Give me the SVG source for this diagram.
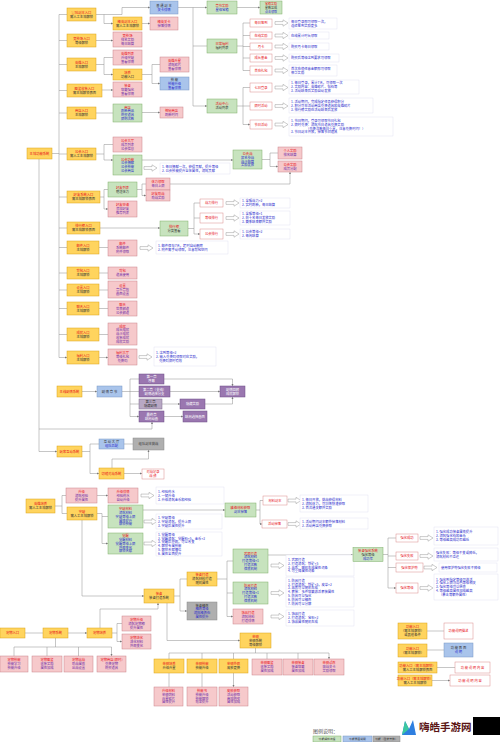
<svg xmlns="http://www.w3.org/2000/svg" xmlns:xlink="http://www.w3.org/1999/xlink" width="500" height="742" viewBox="0 0 500 742">
<style>
.o{fill:#FFD45E;stroke:#D9A21B;stroke-width:.5}
.p{fill:#F6C9CB;stroke:#C9858A;stroke-width:.5}
.g{fill:#C7E3BE;stroke:#7FAF6A;stroke-width:.5}
.b{fill:#A9C4EB;stroke:#7896C4;stroke-width:.5}
.u{fill:#9A77B0;stroke:#6E4E86;stroke-width:.5}
.u2{fill:#B8A8C4;stroke:#7D6A8C;stroke-width:.5}
.x{fill:#AFAFAF;stroke:#8A8A8A;stroke-width:.5}
.w{fill:#fff;stroke:#D98C8C;stroke-width:.5}
.t{fill:#fff;stroke:#E2E2F2;stroke-width:.5}
.c{fill:none;stroke:#8C8C8C;stroke-width:.5}
.a{fill:none;stroke:#8C8C8C;stroke-width:.5;marker-end:url(#ah)}
text{font-family:"Noto Sans CJK SC","Noto Sans",sans-serif;font-size:3.3px}
.m{text-anchor:middle}
.r{fill:#E8141B}.d{fill:#333}.bl{fill:#2A2ACC}.pp{fill:#6F2BA6}.wh{fill:#fff}
</style>
<defs>
<marker id="ah" markerUnits="userSpaceOnUse" markerWidth="2.4" markerHeight="2.4" viewBox="0 0 6 6" refX="6" refY="3" orient="auto"><path d="M0,0L6,3L0,6z" fill="#777"/></marker>
<path id="ha" d="M0,-1.4H8V-3.2L13,0L8,3.2V1.4H0Z" fill="#fff" stroke="#999" stroke-width=".5"/>
</defs>
<rect width="500" height="742" fill="#fff"/>

<g id="connectors">
<path class="c" d="M59,14.5V357.5M52,153.5H59"/>
<path class="a" d="M59,14.5H67M59,40.5H67M59,64.5H67M59,90.5H67M59,113H67M59,154H67M59,197H67M59,228H67M59,247.5H67M59,273H67M59,290H67M59,308.5H67M59,334.5H67M59,357.5H67"/>
<path class="a" d="M96,14.5H122V7.5H150"/>
<path class="a" d="M104,14.5V23.5H113"/>
<path class="a" d="M142,23.5H150"/>
<path class="a" d="M178,7.5H207"/>
<path class="c" d="M193,7.5V106"/>
<path class="a" d="M193,46H207M193,106H207"/>
<path class="a" d="M237,7.5H260"/>
<path class="c" d="M237,46H243M243,23V70.5M237,106H243M243,87.5V124.5"/>
<path class="a" d="M243,23H250M243,35.5H250M243,46.5H250M243,58H250M243,70.5H250M243,87.5H250M243,106H250M243,124.5H250"/>
<path class="a" d="M96,40.5H113"/>
<path class="c" d="M96,64.5H104M104,57.5V74.5"/>
<path class="a" d="M104,57.5H113M104,74.5H113"/>
<path class="a" d="M102,90H113"/>
<path class="c" d="M142,74.5H152M152,64.5V83.5"/>
<path class="a" d="M152,64.5H160M152,83.5H160"/>
<path class="a" d="M96,113H113M142,112.5H160"/>
<path class="c" d="M96,154H104M104,144.5V160"/>
<path class="a" d="M104,144.5H113M104,160H113"/>
<path class="a" d="M142,160H233"/>
<path class="c" d="M262,159.5H270M270,153V166.5"/>
<path class="a" d="M270,153H278M270,166.5H278"/>
<path class="a" d="M170,184H290V172"/>
<path class="c" d="M100,197H104M104,189.5V209"/>
<path class="a" d="M104,189.5H108M104,209H108"/>
<path class="c" d="M137,189.5H142M142,184V195.5"/>
<path class="a" d="M142,184H146M142,195.5H146"/>
<path class="a" d="M100,228H160"/>
<path class="c" d="M188,228.5H194M194,203V234"/>
<path class="a" d="M194,203H200M194,218H200M194,234H200"/>
<path class="a" d="M99,247.5H108M99,273H108M99,290H108M99,308.5H108M99,334.5H108M99,357.5H108"/>
<path class="a" d="M39,159V451.5H57"/>
<path class="a" d="M39,429H152V422"/>
<path class="a" d="M82,391.5H97"/>
<path class="c" d="M122,391.5H130M130,379V416.5"/>
<path class="a" d="M130,379H139M130,391.5H139M130,404H139M130,416.5H139"/>
<path class="a" d="M164,379H232.5V386"/>
<path class="a" d="M170,391.5H220"/>
<path class="a" d="M162,404H180"/>
<path class="a" d="M205,404H232.5V397"/>
<path class="a" d="M164,416.5H183"/>
<path class="c" d="M82,451.5H90M90,444V473.5"/>
<path class="a" d="M90,444H99M90,473.5H99"/>
<path class="a" d="M124,444H133M124,473.5H142"/>
<path class="a" d="M112,468V459H148.5V450"/>
<path class="c" d="M55,506H62M62,495.5V513.5"/>
<path class="a" d="M62,495.5H66M62,513.5H67M97,495.5H108"/>
<path class="c" d="M97,513.5H102M102,513.5V543.5"/>
<path class="a" d="M102,516.5H108M102,543.5H108"/>
<path class="a" d="M143,510H225"/>
<path class="c" d="M256,510H260M260,500.5V524"/>
<path class="a" d="M260,500.5H263M260,524H262"/>
<path class="a" d="M82,520V596H144"/>
<path class="c" d="M174,596H180M180,579V611"/>
<path class="a" d="M180,579H187M180,611H187"/>
<path class="c" d="M217,579H227M227,561V616.5"/>
<path class="a" d="M227,561H233M227,593H233M227,616.5H233"/>
<path class="a" d="M268,555H353"/>
<path class="c" d="M383,554.5H388M388,538V588"/>
<path class="a" d="M388,538H396M388,556H396M388,567.5H396M388,588H396"/>
<path class="a" d="M167,603V640.5H240"/>
<path class="c" d="M255.5,648V653M169,653H329"/>
<path class="a" d="M169,653V659M202,653V659M233.5,653V659M267,653V659M298,653V659M329,653V659"/>
<path class="a" d="M169,673V687M202,673V687M233.5,673V687"/>
<path class="a" d="M25,633H43M68,633H87"/>
<path class="c" d="M112,633H117M117,623.5V641.5"/>
<path class="a" d="M117,623.5H122M117,641.5H122"/>
<path class="a" d="M100,628V609H158V603"/>
<path class="c" d="M55.5,638V647M14,647H111.5"/>
<path class="a" d="M14,647V656M47,647V656M78.5,647V656M111.5,647V656"/>
<path class="a" d="M427,631H444M427,650H444M437,667.5H455M432,680.5H450"/>
<use href="#ha" x="275" y="23"/><use href="#ha" x="275" y="35.5"/><use href="#ha" x="275" y="46.5"/><use href="#ha" x="275" y="58"/><use href="#ha" x="275" y="70.5"/><use href="#ha" x="275" y="87.5"/><use href="#ha" x="275" y="106"/><use href="#ha" x="275" y="124.5"/>
<use href="#ha" x="144" y="168"/>
<use href="#ha" x="226" y="203"/><use href="#ha" x="226" y="218"/><use href="#ha" x="226" y="234"/>
<use href="#ha" x="140" y="248"/><use href="#ha" x="139" y="357"/>
<use href="#ha" x="141" y="495.5"/><use href="#ha" x="144" y="521.5"/><use href="#ha" x="144" y="543.5"/>
<use href="#ha" x="288" y="500.5"/><use href="#ha" x="288" y="524"/>
<use href="#ha" x="271" y="565.5"/><use href="#ha" x="271" y="593"/><use href="#ha" x="271" y="616.5"/>
<use href="#ha" x="420" y="538"/><use href="#ha" x="420" y="556"/><use href="#ha" x="424" y="567.5"/><use href="#ha" x="420" y="588"/>
</g>

<g id="root"><rect class="o" x="27" y="148" width="25" height="11"/><text class="m"><tspan class="r" x="39.5" y="154.7">主城功能系统</tspan></text></g>

<g id="A1"><rect class="o" x="67" y="8" width="29" height="13"/><text class="m"><tspan class="r" x="81.5" y="13.8">冒险副本入口</tspan><tspan class="d" x="81.5" y="17.6">需人工主城解锁</tspan></text></g>
<g id="A2"><rect class="o" x="113" y="17" width="29" height="13"/><text class="m"><tspan class="r" x="127.5" y="22.8">精英副本入口</tspan><tspan class="d" x="127.5" y="26.6">需人工主城解锁</tspan></text></g>
<g id="B1"><rect class="b" x="150" y="1" width="28" height="13"/><text class="m"><tspan class="d" x="164" y="6.8">普 通 副 本</tspan><tspan class="bl" x="164" y="10.6">关卡详情</tspan></text></g>
<g id="P2"><rect class="p" x="150" y="17" width="28" height="13"/><text class="m"><tspan class="r" x="164" y="22.8">精英关卡</tspan><tspan class="pp" x="164" y="26.6">掉落详情</tspan></text></g>
<g id="G1"><rect class="g" x="207" y="1" width="30" height="13"/><text class="m"><tspan class="r" x="222" y="6.8">章节奖励</tspan><tspan class="bl" x="222" y="10.6">星级宝箱</tspan></text></g>
<g id="G1b"><rect class="g" x="260" y="1" width="22" height="13"/><text class="m" style="font-size:3px"><tspan class="r" x="271" y="4.9">宝箱奖励</tspan><tspan class="d" x="271" y="8.7">星数达成</tspan><tspan class="bl" x="271" y="12.5">点击领取</tspan></text></g>
<g id="A3"><rect class="o" x="67" y="34" width="29" height="13"/><text class="m"><tspan class="r" x="81.5" y="39.8">竞技场入口</tspan><tspan class="d" x="81.5" y="43.6">等级解锁</tspan></text></g>
<g id="P3"><rect class="p" x="113" y="32" width="29" height="15"/><text class="m"><tspan class="r" x="127.5" y="36.9">竞技场</tspan><tspan class="pp" x="127.5" y="40.7">排名奖励</tspan><tspan class="pp" x="127.5" y="44.5">每日结算</tspan></text></g>
<g id="A4"><rect class="o" x="67" y="58" width="29" height="13"/><text class="m"><tspan class="r" x="81.5" y="63.8">英雄入口</tspan><tspan class="d" x="81.5" y="67.6">主城解锁</tspan></text></g>
<g id="P4"><rect class="p" x="113" y="50" width="29" height="15"/><text class="m"><tspan class="r" x="127.5" y="54.9">英雄列表</tspan><tspan class="pp" x="127.5" y="58.7">升级突破</tspan><tspan class="pp" x="127.5" y="62.5">查看详情</tspan></text></g>
<g id="A5"><rect class="o" x="113" y="69" width="29" height="11"/><text class="m"><tspan class="r" x="127.5" y="73.8">培养</tspan><tspan class="d" x="127.5" y="77.6">功能入口</tspan></text></g>
<g id="P5"><rect class="p" x="113" y="82" width="29" height="15"/><text class="m"><tspan class="r" x="127.5" y="86.9">装备</tspan><tspan class="pp" x="127.5" y="90.7">穿戴强化</tspan><tspan class="pp" x="127.5" y="94.5">查看详情</tspan></text></g>
<g id="A6"><rect class="o" x="67" y="84" width="35" height="13"/><text class="m"><tspan class="r" x="84.5" y="89.8">图鉴收集入口</tspan><tspan class="d" x="84.5" y="93.6">需主城解锁界面</tspan></text></g>
<g id="P6"><rect class="p" x="160" y="57" width="29" height="15"/><text class="m"><tspan class="r" x="174.5" y="61.9">英雄升星</tspan><tspan class="pp" x="174.5" y="65.7">消耗碎片</tspan><tspan class="pp" x="174.5" y="69.5">查看详情</tspan></text></g>
<g id="B2"><rect class="b" x="160" y="77" width="29" height="13"/><text class="m"><tspan class="d" x="174.5" y="80.9">技 能</tspan><tspan class="bl" x="174.5" y="84.7">技能升级</tspan><tspan class="bl" x="174.5" y="88.5">查看详情</tspan></text></g>
<g id="A7"><rect class="o" x="67" y="107" width="29" height="12"/><text class="m"><tspan class="r" x="81.5" y="112.3">商店入口</tspan><tspan class="d" x="81.5" y="116.1">主城解锁</tspan></text></g>
<g id="G4"><rect class="g" x="113" y="104" width="29" height="18"/><text class="m"><tspan class="r" x="127.5" y="108.5">商店</tspan><tspan class="bl" x="127.5" y="112.3">刷新商品</tspan><tspan class="bl" x="127.5" y="116.1">购买道具</tspan><tspan class="bl" x="127.5" y="119.9">限购次数</tspan></text></g>
<g id="P7"><rect class="p" x="160" y="107" width="23" height="11"/><text class="m"><tspan class="r" x="171.5" y="111.8">神秘商店</tspan><tspan class="pp" x="171.5" y="115.6">刷新时间</tspan></text></g>
<g id="G2"><rect class="g" x="207" y="39" width="30" height="14"/><text class="m"><tspan class="r" x="222" y="45.3">日常福利</tspan><tspan class="d" x="222" y="49.1">福利列表</tspan></text></g>
<g id="G3"><rect class="g" x="207" y="99" width="30" height="14"/><text class="m"><tspan class="r" x="222" y="105.3">活动中心</tspan><tspan class="d" x="222" y="109.1">活动列表</tspan></text></g>

<g id="Wa"><rect class="w" x="250" y="19" width="22" height="8"/><text class="m"><tspan class="r" x="261" y="24.2">每日签到</tspan></text></g>
<g id="Wb"><rect class="w" x="250" y="32" width="22" height="7"/><text class="m"><tspan class="r" x="261" y="36.7">在线奖励</tspan></text></g>
<g id="Wc"><rect class="w" x="250" y="43" width="22" height="7"/><text class="m"><tspan class="r" x="261" y="47.7">月卡</tspan></text></g>
<g id="Wd"><rect class="w" x="250" y="54" width="22" height="8"/><text class="m"><tspan class="r" x="261" y="59.2">成长基金</tspan></text></g>
<g id="We"><rect class="w" x="250" y="66" width="22" height="9"/><text class="m"><tspan class="r" x="261" y="71.7">首充礼包</tspan></text></g>
<g id="Wf"><rect class="w" x="250" y="83" width="22" height="9"/><text class="m"><tspan class="r" x="261" y="88.7">七日登录</tspan></text></g>
<g id="Wg"><rect class="w" x="250" y="102" width="22" height="8"/><text class="m"><tspan class="r" x="261" y="107.2">限时活动</tspan></text></g>
<g id="Wh"><rect class="w" x="250" y="120" width="22" height="9"/><text class="m"><tspan class="r" x="261" y="125.7">节日活动</tspan></text></g>

<g id="Ta"><rect class="t" x="289" y="18" width="48" height="11"/><text class="bl"><tspan x="291" y="22.8">每日登录即可领取一次，</tspan><tspan x="291" y="26.6">连续签到奖励更多</tspan></text></g>
<g id="Tb"><rect class="t" x="289" y="32" width="40" height="7"/><text class="bl"><tspan x="291" y="36.7">在线累计时长领取</tspan></text></g>
<g id="Tc"><rect class="t" x="289" y="43" width="40" height="7"/><text class="bl"><tspan x="291" y="47.7">购买月卡每日领取</tspan></text></g>
<g id="Td"><rect class="t" x="289" y="54" width="50" height="8"/><text class="bl"><tspan x="291" y="59.2">购买后等级达到要求可领取</tspan></text></g>
<g id="Te"><rect class="t" x="289" y="65" width="48" height="11"/><text class="bl"><tspan x="291" y="69.8">首次充值任意金额即可领取</tspan><tspan x="291" y="73.6">豪华奖励</tspan></text></g>
<g id="Tf"><rect class="t" x="289" y="80" width="70" height="14"/><text class="bl"><tspan x="291" y="84.4">1. 每日登录，累计7天，可领取一次</tspan><tspan x="291" y="88.2">2. 奖励内容：英雄碎片、钻石等</tspan><tspan x="291" y="92">3. 活动结束后奖励自动发放</tspan></text></g>
<g id="Tg"><rect class="t" x="289" y="98" width="84" height="15"/><text class="bl"><tspan x="291" y="102.9">1. 活动期间，完成指定任务获得积分</tspan><tspan x="291" y="106.7">2. 积分可在活动商店兑换道具和英雄碎片</tspan><tspan x="291" y="110.5">3. 排行榜奖励在活动结束后发放</tspan></text></g>
<g id="Th"><rect class="t" x="289" y="117" width="104" height="19"/><text class="bl"><tspan x="291" y="122">1. 节日期间，登录可领取节日礼包</tspan><tspan x="291" y="125.8">2. 限时兑换：消耗节日道具兑换奖励</tspan><tspan x="306" y="129.6">（兑换次数每日重置，注意兑换时间！）</tspan><tspan x="291" y="133.4">3. 节日副本开放，掉落节日道具</tspan></text></g>

<g id="A8"><rect class="o" x="67" y="148" width="29" height="12"/><text class="m"><tspan class="r" x="81.5" y="153.3">公会入口</tspan><tspan class="d" x="81.5" y="157.1">需人工主城解锁</tspan></text></g>
<g id="P8"><rect class="p" x="113" y="137" width="29" height="15"/><text class="m"><tspan class="r" x="127.5" y="141.9">公会大厅</tspan><tspan class="pp" x="127.5" y="145.7">成员列表</tspan><tspan class="pp" x="127.5" y="149.5">公会信息</tspan></text></g>
<g id="G5"><rect class="g" x="113" y="155" width="29" height="20"/><text class="m"><tspan class="r" x="127.5" y="160.5">公会功能</tspan><tspan class="bl" x="127.5" y="164.3">公会捐献</tspan><tspan class="bl" x="127.5" y="168.1">公会技能</tspan><tspan class="bl" x="127.5" y="171.9">公会商店</tspan></text></g>
<g id="Ti"><rect class="t" x="160" y="163" width="70" height="11"/><text class="bl"><tspan x="162" y="167.8">1. 每日捐献一次，获得贡献，提升等级</tspan><tspan x="162" y="171.6">2. 公会技能提升全体属性，消耗贡献</tspan></text></g>
<g id="G6"><rect class="g" x="233" y="150" width="29" height="19"/><text class="m"><tspan class="r" x="247.5" y="155">公会战</tspan><tspan class="bl" x="247.5" y="158.8">报名参战</tspan><tspan class="bl" x="247.5" y="162.6">战斗结算</tspan><tspan class="bl" x="247.5" y="166.4">奖励发放</tspan></text></g>
<g id="P9"><rect class="p" x="278" y="147" width="24" height="12"/><text class="m"><tspan class="r" x="290" y="152.3">个人奖励</tspan><tspan class="pp" x="290" y="156.1">排名结算</tspan></text></g>
<g id="P10"><rect class="p" x="278" y="161" width="24" height="11"/><text class="m"><tspan class="r" x="290" y="165.8">公会奖励</tspan><tspan class="pp" x="290" y="169.6">成员分配</tspan></text></g>
<g id="A9"><rect class="o" x="67" y="191" width="33" height="12"/><text class="m"><tspan class="r" x="83.5" y="196.3">好友系统入口</tspan><tspan class="d" x="83.5" y="200.1">需主城解锁界面</tspan></text></g>
<g id="G7"><rect class="g" x="108" y="182" width="29" height="15"/><text class="m"><tspan class="r" x="122.5" y="188.8">好友列表</tspan><tspan class="d" x="122.5" y="192.6">赠送体力</tspan></text></g>
<g id="P11"><rect class="p" x="108" y="201" width="29" height="16"/><text class="m"><tspan class="r" x="122.5" y="206.4">好友申请</tspan><tspan class="pp" x="122.5" y="210.2">添加好友</tspan><tspan class="pp" x="122.5" y="214">推荐列表</tspan></text></g>
<g id="P12"><rect class="p" x="146" y="178" width="24" height="12"/><text class="m"><tspan class="r" x="158" y="183.3">体力领取</tspan><tspan class="pp" x="158" y="187.1">每日上限</tspan></text></g>
<g id="P13"><rect class="p" x="146" y="190" width="24" height="11"/><text class="m"><tspan class="r" x="158" y="194.8">好友助战</tspan><tspan class="pp" x="158" y="198.6">助战奖励</tspan></text></g>
<g id="A10"><rect class="o" x="67" y="222" width="33" height="12"/><text class="m"><tspan class="r" x="83.5" y="227.3">排行榜入口</tspan><tspan class="d" x="83.5" y="231.1">需主城解锁界面</tspan></text></g>
<g id="G8"><rect class="g" x="160" y="221" width="28" height="15"/><text class="m"><tspan class="r" x="174" y="227.8">排行榜</tspan><tspan class="d" x="174" y="231.6">分类查看</tspan></text></g>
<g id="W1"><rect class="w" x="200" y="199" width="23" height="8"/><text class="m"><tspan class="r" x="211.5" y="204.2">战力排行</tspan></text></g>
<g id="W2"><rect class="w" x="200" y="213" width="23" height="10"/><text class="m"><tspan class="r" x="211.5" y="219.2">等级排行</tspan></text></g>
<g id="W3"><rect class="w" x="200" y="229" width="23" height="10"/><text class="m"><tspan class="r" x="211.5" y="235.2">公会排行</tspan></text></g>
<g id="Tj"><rect class="t" x="240" y="198" width="50" height="10"/><text class="bl"><tspan x="242" y="202.3">1. 全服战力+2</tspan><tspan x="242" y="206.1">2. 实时刷新，每日结算</tspan></text></g>
<g id="Tk"><rect class="t" x="240" y="211" width="50" height="14"/><text class="bl"><tspan x="242" y="215.4">1. 全服等级+1</tspan><tspan x="242" y="219.2">2. 前十名每日发放奖励</tspan><tspan x="242" y="223">3. 赛季结束额外奖励</tspan></text></g>
<g id="Tl"><rect class="t" x="240" y="229" width="50" height="10"/><text class="bl"><tspan x="242" y="233.3">1. 公会等级+2</tspan><tspan x="242" y="237.1">2. 每周结算</tspan></text></g>
<g id="A11"><rect class="o" x="67" y="241" width="32" height="13"/><text class="m"><tspan class="r" x="83" y="246.8">邮件入口</tspan><tspan class="d" x="83" y="250.6">主城解锁</tspan></text></g>
<g id="P14"><rect class="p" x="108" y="240" width="29" height="16"/><text class="m"><tspan class="r" x="122.5" y="245.4">邮件</tspan><tspan class="pp" x="122.5" y="249.2">系统邮件</tspan><tspan class="pp" x="122.5" y="253">附件领取</tspan></text></g>
<g id="Tm"><rect class="t" x="156" y="241" width="72" height="13"/><text class="bl"><tspan x="158" y="246.8">1. 邮件保存7天，超时自动删除</tspan><tspan x="158" y="250.6">2. 附件需手动领取，注意背包空间</tspan></text></g>
<g id="A12"><rect class="o" x="67" y="267" width="32" height="12"/><text class="m"><tspan class="r" x="83" y="272.3">背包入口</tspan><tspan class="d" x="83" y="276.1">主城解锁</tspan></text></g>
<g id="P15"><rect class="p" x="108" y="267" width="29" height="12"/><text class="m"><tspan class="r" x="122.5" y="272.3">背包</tspan><tspan class="pp" x="122.5" y="276.1">道具使用</tspan></text></g>
<g id="A13"><rect class="o" x="67" y="284" width="32" height="12"/><text class="m"><tspan class="r" x="83" y="289.3">设置入口</tspan><tspan class="d" x="83" y="293.1">主城解锁</tspan></text></g>
<g id="P16"><rect class="p" x="108" y="281" width="29" height="17"/><text class="m"><tspan class="r" x="122.5" y="286.9">设置</tspan><tspan class="pp" x="122.5" y="290.7">音乐音效</tspan><tspan class="pp" x="122.5" y="294.5">画面设置</tspan></text></g>
<g id="A14"><rect class="o" x="67" y="302" width="32" height="13"/><text class="m"><tspan class="r" x="83" y="307.8">聊天入口</tspan><tspan class="d" x="83" y="311.6">主城解锁</tspan></text></g>
<g id="P17"><rect class="p" x="108" y="301" width="29" height="15"/><text class="m"><tspan class="r" x="122.5" y="305.9">聊天</tspan><tspan class="pp" x="122.5" y="309.7">世界频道</tspan><tspan class="pp" x="122.5" y="313.5">公会频道</tspan></text></g>
<g id="A15"><rect class="o" x="67" y="328" width="32" height="13"/><text class="m"><tspan class="r" x="83" y="333.8">成就入口</tspan><tspan class="d" x="83" y="337.6">主城解锁</tspan></text></g>
<g id="P18"><rect class="p" x="108" y="323" width="29" height="22"/><text class="m"><tspan class="r" x="122.5" y="327.6">成就</tspan><tspan class="pp" x="122.5" y="331.4">成长成就</tspan><tspan class="pp" x="122.5" y="335.2">战斗成就</tspan><tspan class="pp" x="122.5" y="339">收集成就</tspan><tspan class="pp" x="122.5" y="342.8">成就奖励</tspan></text></g>
<g id="A16"><rect class="o" x="67" y="351" width="32" height="13"/><text class="m"><tspan class="r" x="83" y="356.8">福利入口</tspan><tspan class="d" x="83" y="360.6">主城解锁</tspan></text></g>
<g id="P19"><rect class="p" x="108" y="349" width="29" height="16"/><text class="m"><tspan class="r" x="122.5" y="354.4">福利大厅</tspan><tspan class="pp" x="122.5" y="358.2">等级礼包</tspan><tspan class="pp" x="122.5" y="362">兑换码</tspan></text></g>
<g id="Tn"><rect class="t" x="154" y="347" width="62" height="19"/><text class="bl"><tspan x="156" y="353.9">1. 达到等级+2</tspan><tspan x="156" y="357.7">2. 输入兑换码领取对应奖励，</tspan><tspan x="159" y="361.5">兑换码限时有效</tspan></text></g>

<g id="C1"><rect class="o" x="57" y="386" width="25" height="11"/><text class="m"><tspan class="r" x="69.5" y="392.7">主线剧情系统</tspan></text></g>
<g id="B3"><rect class="b" x="97" y="386" width="25" height="11"/><text class="m"><tspan class="d" x="109.5" y="392.7">剧 情 章 节</tspan></text></g>
<g id="U1"><rect class="u" x="139" y="374" width="25" height="10"/><text class="m wh"><tspan x="151.5" y="378.3">第一章</tspan><tspan x="151.5" y="382.1">序幕</tspan></text></g>
<g id="U2"><rect class="u" x="139" y="386" width="31" height="11"/><text class="m wh"><tspan x="154.5" y="390.8">第二章（支线）</tspan><tspan x="154.5" y="394.6">剧情选择分支</tspan></text></g>
<g id="U3"><rect class="u2" x="139" y="399" width="23" height="10"/><text class="m d"><tspan x="150.5" y="403.3">第三章</tspan><tspan x="150.5" y="407.1">隐藏剧情</tspan></text></g>
<g id="U4"><rect class="u" x="139" y="411" width="25" height="11"/><text class="m wh"><tspan x="151.5" y="415.8">最终章</tspan><tspan x="151.5" y="419.6">结局动画</tspan></text></g>
<g id="U5"><rect class="u" x="220" y="386" width="25" height="11"/><text class="m wh"><tspan x="232.5" y="390.8">剧情回顾</tspan><tspan x="232.5" y="394.6">成就解锁</tspan></text></g>
<g id="U6"><rect class="u" x="180" y="399" width="25" height="10"/><text class="m wh"><tspan x="192.5" y="405.2">隐藏奖励</tspan></text></g>
<g id="U7"><rect class="u" x="183" y="411" width="24" height="11"/><text class="m wh"><tspan x="195" y="417.7">结局选择画面</tspan></text></g>

<g id="C2"><rect class="o" x="57" y="446" width="25" height="11"/><text class="m"><tspan class="r" x="69.5" y="452.7">玩家互动系统</tspan></text></g>
<g id="B4"><rect class="b" x="99" y="439" width="25" height="10"/><text class="m"><tspan class="d" x="111.5" y="443.3">互 动 大 厅</tspan><tspan class="bl" x="111.5" y="447.1">组队匹配</tspan></text></g>
<g id="C3"><rect class="o" x="99" y="468" width="25" height="11"/><text class="m"><tspan class="r" x="111.5" y="474.7">切磋对战系统</tspan></text></g>
<g id="X1"><rect class="x" x="133" y="438" width="31" height="12"/><text class="m d"><tspan x="148.5" y="445.2">组队副本挑战</tspan></text></g>
<g id="W10"><rect class="w" x="142" y="469" width="22" height="10"/><text class="m r"><tspan x="153" y="473.3">对战记录</tspan><tspan x="153" y="477.1">战 绩</tspan></text></g>

<g id="D1"><rect class="o" x="26" y="499" width="29" height="14"/><text class="m"><tspan class="r" x="40.5" y="505.3">英雄培养</tspan><tspan class="d" x="40.5" y="509.1">需人工主城解锁</tspan></text></g>
<g id="D2"><rect class="p" x="66" y="488" width="31" height="15"/><text class="m"><tspan class="r" x="81.5" y="492.9">升级</tspan><tspan class="pp" x="81.5" y="496.7">消耗经验</tspan><tspan class="pp" x="81.5" y="500.5">提升属性</tspan></text></g>
<g id="D3"><rect class="o" x="67" y="507" width="30" height="13"/><text class="m"><tspan class="r" x="82" y="512.8">突破</tspan><tspan class="d" x="82" y="516.6">需人工主城解锁</tspan></text></g>
<g id="D4"><rect class="p" x="108" y="488" width="30" height="15"/><text class="m"><tspan class="r" x="123" y="492.9">升级详情</tspan><tspan class="pp" x="123" y="496.7">经验药水</tspan><tspan class="pp" x="123" y="500.5">自动升级</tspan></text></g>
<g id="To"><rect class="t" x="156" y="487" width="68" height="17"/><text class="bl"><tspan x="158" y="492.9">1. 经验药水</tspan><tspan x="158" y="496.7">2. 一键升级</tspan><tspan x="158" y="500.5">3. 升级消耗金币和经验</tspan></text></g>
<g id="D5"><rect class="g" x="108" y="505" width="35" height="23"/><text class="m"><tspan class="r" x="125.5" y="510.1">突破材料</tspan><tspan class="bl" x="125.5" y="513.9">消耗材料</tspan><tspan class="bl" x="125.5" y="517.7">突破等级上限</tspan><tspan class="bl" x="125.5" y="521.5">属性提升</tspan><tspan class="bl" x="125.5" y="525.3">解锁技能</tspan></text></g>
<g id="D6"><rect class="g" x="108" y="533" width="35" height="21"/><text class="m"><tspan class="r" x="125.5" y="537.1">觉醒</tspan><tspan class="bl" x="125.5" y="540.9">觉醒材料</tspan><tspan class="bl" x="125.5" y="544.7">觉醒等级上限</tspan><tspan class="bl" x="125.5" y="548.5">外观变化</tspan><tspan class="bl" x="125.5" y="552.3">解锁天赋</tspan></text></g>
<g id="Tp"><rect class="t" x="156" y="514" width="66" height="15"/><text class="bl"><tspan x="158" y="518.9">1. 突破等级</tspan><tspan x="158" y="522.7">2. 突破消耗，提升上限</tspan><tspan x="158" y="526.5">3. 突破后属性提升</tspan></text></g>
<g id="Tq"><rect class="t" x="156" y="532" width="66" height="24"/><text class="bl"><tspan x="158" y="535.7">1. 觉醒等级</tspan><tspan x="158" y="539.5">2. 觉醒消耗：觉醒石+5，金币+2</tspan><tspan x="158" y="543.3">3. 觉醒后外观，可以改变</tspan><tspan x="158" y="547.1">4. 解锁专属技能</tspan><tspan x="158" y="550.9">5. 解锁天赋槽位</tspan><tspan x="158" y="554.7">6. 属性全面提升</tspan></text></g>
<g id="E1"><rect class="g" x="225" y="503" width="31" height="14"/><text class="m"><tspan class="r" x="240.5" y="509.3">雕像材料获取</tspan><tspan class="bl" x="240.5" y="513.1">副本掉落</tspan></text></g>
<g id="W11"><rect class="w" x="263" y="496" width="24" height="9"/><text class="m r"><tspan x="275" y="501.7">材料副本</tspan></text></g>
<g id="W12"><rect class="w" x="262" y="520" width="25" height="8"/><text class="m r"><tspan x="274.5" y="525.2">活动掉落</tspan></text></g>
<g id="Tr"><rect class="t" x="300" y="495" width="68" height="17"/><text class="bl"><tspan x="302" y="500.9">1. 每日开放，挑战获得材料</tspan><tspan x="302" y="504.7">2. 消耗体力，可扫荡快速获取</tspan><tspan x="302" y="508.5">3. 首次通关额外奖励</tspan></text></g>
<g id="Ts"><rect class="t" x="300" y="518" width="68" height="11"/><text class="bl"><tspan x="302" y="522.8">1. 活动期间副本额外掉落材料</tspan><tspan x="302" y="526.6">2. 活动商店兑换获取</tspan></text></g>

<g id="F1"><rect class="o" x="144" y="589" width="30" height="14"/><text class="m"><tspan class="r" x="159" y="595.3">装备</tspan><tspan class="d" x="159" y="599.1">装备打造系统</tspan></text></g>
<g id="F2"><rect class="o" x="187" y="572" width="30" height="14"/><text class="m"><tspan class="r" x="202" y="576.4">装备打造</tspan><tspan class="d" x="202" y="580.2">消耗材料打造</tspan><tspan class="d" x="202" y="584">随机属性</tspan></text></g>
<g id="F3"><rect class="x" x="187" y="602" width="30" height="18"/><text class="m"><tspan class="d" x="202" y="606.5">装备精炼</tspan><tspan class="bl" x="202" y="610.3">精炼等级</tspan><tspan class="bl" x="202" y="614.1">消耗精炼石</tspan><tspan class="bl" x="202" y="617.9">属性提升</tspan></text></g>
<g id="H1"><rect class="g" x="233" y="549" width="35" height="24"/><text class="m"><tspan class="r" x="250.5" y="554.6">武器打造</tspan><tspan class="bl" x="250.5" y="558.4">消耗材料</tspan><tspan class="bl" x="250.5" y="562.2">打造等级+1</tspan><tspan class="bl" x="250.5" y="566">打造次数</tspan><tspan class="bl" x="250.5" y="569.8">保底机制</tspan></text></g>
<g id="H2"><rect class="g" x="233" y="582" width="35" height="22"/><text class="m"><tspan class="r" x="250.5" y="586.6">防具打造</tspan><tspan class="bl" x="250.5" y="590.4">消耗材料</tspan><tspan class="bl" x="250.5" y="594.2">打造等级+1</tspan><tspan class="bl" x="250.5" y="598">打造次数</tspan><tspan class="bl" x="250.5" y="601.8">保底机制</tspan></text></g>
<g id="H3"><rect class="p" x="233" y="609" width="30" height="15"/><text class="m"><tspan class="r" x="248" y="613.9">饰品打造</tspan><tspan class="pp" x="248" y="617.7">消耗材料</tspan><tspan class="pp" x="248" y="621.5">打造详情</tspan></text></g>
<g id="Tt"><rect class="t" x="286" y="555" width="68" height="21"/><text class="bl"><tspan x="288" y="561">1. 武器打造</tspan><tspan x="288" y="564.8">2. 打造消耗：铁矿+5</tspan><tspan x="288" y="568.6">3. 品质：随机生成属性词条</tspan><tspan x="288" y="572.4">4. 可重铸属性词条</tspan></text></g>
<g id="Tu"><rect class="t" x="286" y="577" width="68" height="30"/><text class="bl"><tspan x="288" y="581.8">1. 防具打造</tspan><tspan x="288" y="585.6">2. 打造消耗：铁矿+5，皮革+2</tspan><tspan x="288" y="589.4">3. 品质可以随机生成</tspan><tspan x="288" y="593.2">4. 套装：多件穿戴激活套装属性</tspan><tspan x="288" y="597">5. 防具可以强化</tspan><tspan x="288" y="600.8">6. 防具可以精炼</tspan><tspan x="288" y="604.6">7. 防具可以分解</tspan></text></g>
<g id="Tv"><rect class="t" x="286" y="610" width="68" height="16"/><text class="bl"><tspan x="288" y="615.4">1. 饰品打造</tspan><tspan x="288" y="619.2">2. 打造消耗：宝石+2</tspan><tspan x="288" y="623">3. 饰品属性随机生成</tspan></text></g>
<g id="K"><rect class="g" x="353" y="547.5" width="30" height="14"/><text class="m"><tspan class="r" x="368" y="551.9">装备强化系统</tspan><tspan class="d" x="368" y="555.7">强化等级</tspan><tspan class="bl" x="368" y="559.5">成功率</tspan></text></g>
<g id="W6"><rect class="w" x="396" y="534" width="22" height="8"/><text class="m r"><tspan x="407" y="539.2">强化成功</tspan></text></g>
<g id="W7"><rect class="w" x="396" y="552" width="22" height="8"/><text class="m r"><tspan x="407" y="557.2">强化失败</tspan></text></g>
<g id="W8"><rect class="w" x="396" y="563" width="27" height="9"/><text class="m r"><tspan x="409.5" y="568.7">强化保护符</tspan></text></g>
<g id="W9"><rect class="w" x="396" y="583" width="22" height="10"/><text class="m r"><tspan x="407" y="589.2">强化等级</tspan></text></g>
<g id="Tw"><rect class="t" x="434" y="527" width="64" height="18"/><text class="bl"><tspan x="436" y="533.4">1. 强化成功装备属性提升</tspan><tspan x="436" y="537.2">2. 消耗强化石和金币</tspan><tspan x="436" y="541">3. 等级越高成功率越低</tspan></text></g>
<g id="Tx"><rect class="t" x="434" y="548" width="64" height="13"/><text class="bl"><tspan x="436" y="553.8">强化失败：等级不变或降低，</tspan><tspan x="436" y="557.6">消耗材料不返还</tspan></text></g>
<g id="Ty"><rect class="t" x="439" y="563" width="58" height="9"/><text class="bl"><tspan x="441" y="568.7">使用保护符强化失败不降级</tspan></text></g>
<g id="Tz"><rect class="t" x="434" y="574" width="64" height="26"/><text class="bl"><tspan x="436" y="580.6">1. 强化到指定等级可激活</tspan><tspan x="436" y="584.4">2. 强化上限与角色等级相关</tspan><tspan x="436" y="588.2">3. 强化等级可以转移</tspan><tspan x="436" y="592">4. 等级越高属性加成越高</tspan><tspan x="439" y="595.8">（暴击等额外属性）</tspan></text></g>

<g id="L"><rect class="o" x="240" y="633" width="31" height="15"/><text class="m"><tspan class="r" x="255.5" y="637.9">坐骑</tspan><tspan class="d" x="255.5" y="641.7">坐骑系统</tspan><tspan class="d" x="255.5" y="645.5">等级解锁</tspan></text></g>
<g id="M1"><rect class="o" x="154" y="659" width="30" height="14"/><text class="m"><tspan class="r" x="169" y="665.3">坐骑培养</tspan><tspan class="d" x="169" y="669.1">升级升星</tspan></text></g>
<g id="M2"><rect class="o" x="187" y="659" width="30" height="14"/><text class="m"><tspan class="r" x="202" y="665.3">坐骑技能</tspan><tspan class="d" x="202" y="669.1">技能升级</tspan></text></g>
<g id="M3"><rect class="o" x="219" y="659" width="29" height="14"/><text class="m"><tspan class="r" x="233.5" y="665.3">坐骑外观</tspan><tspan class="d" x="233.5" y="669.1">皮肤更换</tspan></text></g>
<g id="M4"><rect class="p" x="252" y="659" width="30" height="16"/><text class="m"><tspan class="r" x="267" y="664.4">坐骑图鉴</tspan><tspan class="pp" x="267" y="668.2">收集奖励</tspan><tspan class="pp" x="267" y="672">属性加成</tspan></text></g>
<g id="M5"><rect class="p" x="283" y="659" width="30" height="16"/><text class="m"><tspan class="r" x="298" y="664.4">坐骑装备</tspan><tspan class="pp" x="298" y="668.2">装备穿戴</tspan><tspan class="pp" x="298" y="672">属性加成</tspan></text></g>
<g id="M6"><rect class="p" x="314" y="659" width="30" height="16"/><text class="m"><tspan class="r" x="329" y="664.4">坐骑试炼</tspan><tspan class="pp" x="329" y="668.2">挑战关卡</tspan><tspan class="pp" x="329" y="672">奖励领取</tspan></text></g>
<g id="N1"><rect class="p" x="154" y="687" width="29" height="19"/><text class="m"><tspan class="r" x="168.5" y="692">升级材料</tspan><tspan class="pp" x="168.5" y="695.8">坐骑饲料</tspan><tspan class="pp" x="168.5" y="699.6">升星碎片</tspan><tspan class="pp" x="168.5" y="703.4">属性提升</tspan></text></g>
<g id="N2"><rect class="p" x="187" y="687" width="30" height="19"/><text class="m"><tspan class="r" x="202" y="692">技能书</tspan><tspan class="pp" x="202" y="695.8">技能升级</tspan><tspan class="pp" x="202" y="699.6">技能解锁</tspan><tspan class="pp" x="202" y="703.4">效果提升</tspan></text></g>
<g id="N3"><rect class="p" x="219" y="687" width="29" height="19"/><text class="m"><tspan class="r" x="233.5" y="692">皮肤获取</tspan><tspan class="pp" x="233.5" y="695.8">活动获取</tspan><tspan class="pp" x="233.5" y="699.6">商城购买</tspan><tspan class="pp" x="233.5" y="703.4">属性加成</tspan></text></g>

<g id="Q1"><rect class="o" x="0" y="628" width="25" height="10"/><text class="m"><tspan class="r" x="12.5" y="634.2">宠物入口</tspan></text></g>
<g id="Q2"><rect class="o" x="43" y="628" width="25" height="10"/><text class="m"><tspan class="r" x="55.5" y="634.2">宠物系统</tspan></text></g>
<g id="Q3"><rect class="o" x="87" y="628" width="25" height="10"/><text class="m"><tspan class="r" x="99.5" y="634.2">宠物培养</tspan></text></g>
<g id="R1"><rect class="p" x="122" y="616" width="29" height="15"/><text class="m"><tspan class="r" x="136.5" y="620.9">宠物升级</tspan><tspan class="pp" x="136.5" y="624.7">消耗宠物粮</tspan><tspan class="pp" x="136.5" y="628.5">提升属性</tspan></text></g>
<g id="R2"><rect class="p" x="122" y="634" width="29" height="15"/><text class="m"><tspan class="r" x="136.5" y="638.9">宠物进化</tspan><tspan class="pp" x="136.5" y="642.7">进化材料</tspan><tspan class="pp" x="136.5" y="646.5">外观变化</tspan></text></g>
<g id="S1"><rect class="p" x="0" y="656" width="28" height="16"/><text class="m"><tspan class="r" x="14" y="661.4">宠物技能</tspan><tspan class="pp" x="14" y="665.2">技能学习</tspan><tspan class="pp" x="14" y="669">技能升级</tspan></text></g>
<g id="S2"><rect class="p" x="32" y="656" width="30" height="16"/><text class="m"><tspan class="r" x="47" y="661.4">宠物图鉴</tspan><tspan class="pp" x="47" y="665.2">收集奖励</tspan><tspan class="pp" x="47" y="669">属性加成</tspan></text></g>
<g id="S3"><rect class="p" x="64" y="656" width="29" height="16"/><text class="m"><tspan class="r" x="78.5" y="661.4">宠物出战</tspan><tspan class="pp" x="78.5" y="665.2">助战属性</tspan><tspan class="pp" x="78.5" y="669">出战设置</tspan></text></g>
<g id="S4"><rect class="p" x="97" y="656" width="29" height="16"/><text class="m"><tspan class="r" x="111.5" y="661.4">宠物商店(限时)</tspan><tspan class="pp" x="111.5" y="665.2">兑换宠物</tspan><tspan class="pp" x="111.5" y="669">购买道具</tspan></text></g>

<g id="legend-right">
<rect class="o" x="398" y="623" width="29" height="16"/><text class="m"><tspan class="r" x="412.5" y="628.4">功能入口</tspan><tspan class="d" x="412.5" y="632.2">（需主城解锁）</tspan><tspan class="d" x="412.5" y="636">或其他条件</tspan></text>
<rect class="w" x="444" y="623" width="29" height="16"/><text class="m r"><tspan x="458.5" y="632.2">功能说明描述</tspan></text>
<rect class="o" x="398" y="644" width="29" height="13"/><text class="m"><tspan class="r" x="412.5" y="649.8">功能入口</tspan><tspan class="d" x="412.5" y="653.6">（需主城解锁）</tspan></text>
<rect class="b" x="444" y="643" width="29" height="14"/><text class="m"><tspan class="d" x="458.5" y="649.3">功 能 界 面</tspan><tspan class="bl" x="458.5" y="653.1">说 明</tspan></text>
<rect class="o" x="398" y="662" width="39" height="11"/><text class="m"><tspan class="r" x="417.5" y="666.8">功能入口（需主城解锁）</tspan><tspan class="d" x="417.5" y="670.6">需人工主城解锁界面</tspan></text>
<rect class="w" x="455" y="662" width="35" height="11"/><text class="m r"><tspan x="472.5" y="668.7">功 能 说 明 内 容</tspan></text>
<rect class="o" x="398" y="675" width="34" height="11"/><text class="m"><tspan class="r" x="415" y="679.8">功能入口（需主城解锁）</tspan><tspan class="d" x="415" y="683.6">需人工主城解锁</tspan></text>
<rect class="w" x="450" y="675" width="40" height="11"/><text class="m r"><tspan x="470" y="681.7">功 能 说 明 内 容</tspan></text>
</g>

<g id="legend-bottom">
<text x="313" y="733" style="font-size:5px;fill:#555">图例说明：</text>
<rect class="g" x="313" y="736" width="28" height="6"/><text class="m d" x="327" y="740.3" style="font-size:2.8px">功能解锁流程</text>
<rect class="b" x="343" y="736" width="29" height="6"/><text class="m d" x="357.5" y="740.3" style="font-size:2.8px">功能界面说明</text>
<rect class="x" x="373" y="736" width="27" height="6"/><text class="m d" x="386.5" y="740.3" style="font-size:2.8px">功能（暂未开放）</text>
</g>

<g id="watermark">
<rect x="400" y="717" width="18" height="20" rx="3" fill="#fff"/>
<path d="M402,735L405,721L409,729L413,720L416,735Z" fill="#2E7FE0"/>
<path d="M402,735L405,721L409,729Z" fill="#3CC8A0"/>
<text x="419" y="731" style="font-size:10.5px;font-weight:bold;fill:#5A1414">嗨皓手游网</text>
<rect x="473" y="717" width="27" height="18" fill="#000"/>
</g>
</svg>
